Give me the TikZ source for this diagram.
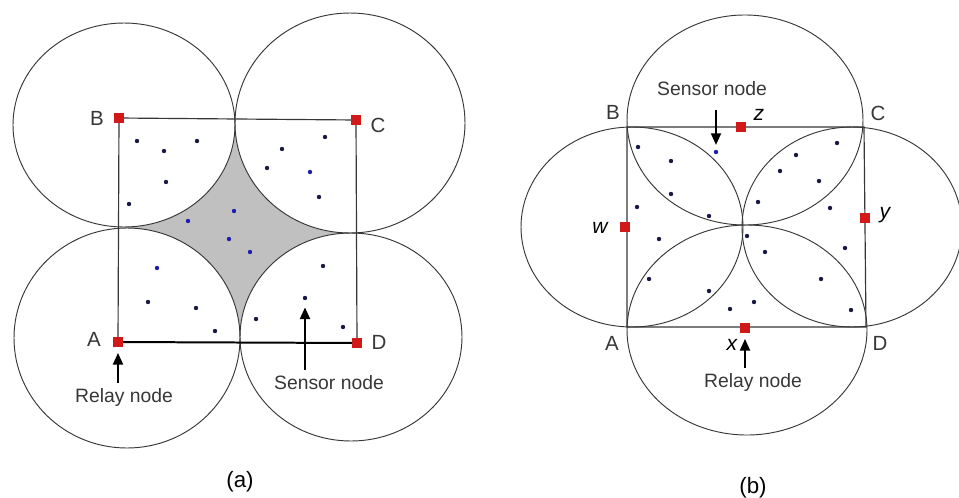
\documentclass[tikz,border=0pt]{standalone}
\usepackage{fontspec}
\setmainfont{Liberation Sans}
\usetikzlibrary{arrows.meta, positioning}
\definecolor{relayc}{RGB}{210,25,25}
\definecolor{holec}{RGB}{192,192,192}
\definecolor{dotc}{RGB}{25,25,70}
\definecolor{bluedot}{RGB}{30,30,170}
\definecolor{linec}{RGB}{55,55,55}
\definecolor{txtc}{RGB}{55,55,55}

\begin{document}
\begin{tikzpicture}[x=0.03cm,y=-0.03cm,
    relay/.style={fill=relayc,minimum size=8.2pt,inner sep=0pt},
    lbl/.style={text=txtc,font=\fontsize{16.5}{19}\selectfont,inner sep=0pt},
    corner/.style={text=txtc,font=\fontsize{17.5}{19}\selectfont,inner sep=0pt},
    var/.style={font=\fontsize{18}{19}\selectfont\itshape,inner sep=0pt},
    caption/.style={font=\fontsize{19}{21}\selectfont,inner sep=0pt},
    rng/.style={draw=linec,line width=0.8pt},
    arr/.style={-{Triangle[width=8.5pt,length=10pt]},line width=1.8pt}]
	\useasboundingbox (0,0) rectangle (959,497);
	% ---------------- (a) ----------------
	% uncovered hole in the middle
	\fill[holec] (124,125) rectangle (351,337);
	\fill[white] (124,125) ellipse (111 and 102) (350,123) ellipse (115 and 110)
		(127,338) ellipse (113 and 110) (351,337) ellipse (111 and 104);
	% sensing ranges of the corner relays
	\draw[rng] (124,125) ellipse (111 and 102);
	\draw[rng] (350,123) ellipse (115 and 110);
	\draw[rng] (127,338) ellipse (113 and 110);
	\draw[rng] (351,337) ellipse (111 and 104);
	% relay nodes
	\node[relay] (A) at (118,342) {};
	\node[relay] (B) at (119,118) {};
	\node[relay] (C) at (356,120) {};
	\node[relay] (D) at (357,343) {};
	\draw[linec,line width=1pt] (B) -- (C) -- (D);
	\draw[linec,line width=1pt] (B) -- (A);
	\draw[line width=1.7pt] (A) -- (D);
	% sensors
	\foreach \x/\y in {137/141, 197/141, 164/151, 166/182, 129/204,
		282/149, 325/137, 267/168, 319/197, 323/266, 305/298, 256/319, 343/327,
		148/302, 196/308, 215/331}
		\fill[dotc] (\x,\y) circle (2.2);
	\foreach \x/\y in {310/172, 234/211, 188/221, 229/239, 250/252, 157/268}
		\fill[bluedot] (\x,\y) circle (2.2);
	\coordinate (sdA) at (305,298);
	% labels
	\node[corner] (labA) at (94,339) {A};
	\node[corner] (labB) at (97,118) {B};
	\node[corner] (labC) at (378,125) {C};
	\node[corner] (labD) at (379,342) {D};
	\node[lbl] (relayA) at (124,397) {Relay node};
	\node[lbl] (sensA) at (329,383) {Sensor node};
	\draw[arr,shorten <=4pt,shorten >=5pt] (relayA.north -| A) -- (A);
	\draw[arr,shorten <=5pt,shorten >=8pt] (sensA.north -| sdA) -- (sdA);
	\node[caption] (capA) at (240,482) {(a)};
	% ---------------- (b) ----------------
	% sensing ranges of the mid-side relays
	\draw[rng] (745,120) ellipse (118 and 105);
	\draw[rng] (747,330) ellipse (120 and 105);
	\draw[rng] (632,227) ellipse (111 and 100);
	\draw[rng] (852,227) ellipse (110 and 100);
	% square
	\coordinate (Ab) at (627,327);
	\coordinate (Bb) at (627,127);
	\coordinate (Cb) at (864,127);
	\coordinate (Db) at (866,327);
	\draw[linec,line width=1pt] (Ab) -- (Bb) -- (Cb) -- (Db) -- cycle;
	% relay nodes
	\node[relay] (z) at (741,127) {};
	\node[relay] (x) at (745,328) {};
	\node[relay] (w) at (625,227) {};
	\node[relay] (y) at (865,218) {};
	% sensors
	\foreach \x/\y in {638/147, 671/161, 671/194, 637/207, 709/216, 659/239,
		649/279, 709/291, 730/309, 754/302, 837/143, 796/155, 780/171, 819/181,
		758/202, 830/208, 747/236, 765/252, 845/248, 821/279, 851/310}
		\fill[dotc] (\x,\y) circle (2.2);
	\fill[bluedot] (716,152) circle (2.2);
	\coordinate (sdB) at (716,152);
	% labels
	\node[corner] (labAb) at (612,343) {A};
	\node[corner] (labBb) at (613,112) {B};
	\node[corner] (labCb) at (878,113) {C};
	\node[corner] (labDb) at (880,343) {D};
	\node[var] (labz) at (759,115) {z};
	\node[var] (laby) at (885,215) {y};
	\node[var] (labw) at (600,228) {w};
	\node[var] (labx) at (732,345) {x};
	\node[lbl] (sensB) at (712,89) {Sensor node};
	\node[lbl] (relayB) at (753,382) {Relay node};
	\draw[arr,shorten <=12pt,shorten >=6pt] (sensB.south -| sdB) -- (sdB);
	\draw[arr,shorten <=4pt,shorten >=5pt] (relayB.north -| x) -- (x);
	\node[caption] (capB) at (753,488) {(b)};
\end{tikzpicture}
\end{document}
